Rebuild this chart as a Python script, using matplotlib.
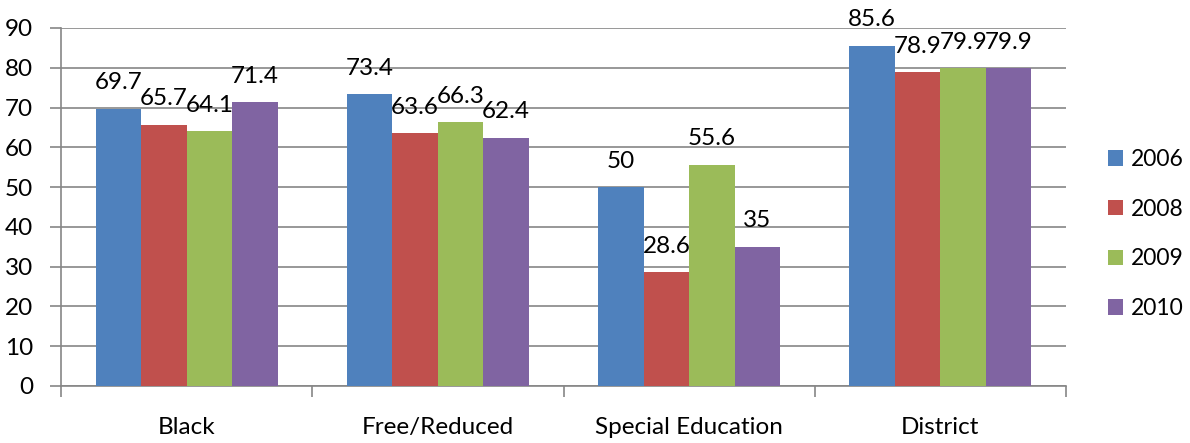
import matplotlib.pyplot as plt
import numpy as np

plt.rcParams['font.family'] = ['Lato', 'DejaVu Sans']

groups = ['Black', 'Free/Reduced', 'Special Education', 'District']
years = ['2006', '2008', '2009', '2010']
v2006 = [69.7, 73.4, 50, 85.6]
v2008 = [65.7, 63.6, 28.6, 78.9]
v2009 = [64.1, 66.3, 55.6, 79.9]
v2010 = [71.4, 62.4, 35, 79.9]
series = [v2006, v2008, v2009, v2010]
colors = ['#4F81BD', '#C0504D', '#9BBB59', '#8064A2']

grid_col = '#868686'
fs = 17.5

fig = plt.figure(figsize=(11.9, 4.43), dpi=100)
ax = fig.add_axes([61 / 1190, 57 / 443, 1005 / 1190, 358 / 443])

x = np.arange(len(groups))
w = 0.725 / 4
for i, (vals, col, yr) in enumerate(zip(series, colors, years)):
    pos = x - 0.725 / 2 + w * (i + 0.5)
    ax.bar(pos, vals, w, color=col, label=yr, zorder=3)
    for p, v in zip(pos, vals):
        ax.annotate(f'{v:g}', (p, v), xytext=(0, 14), textcoords='offset points',
                    ha='center', va='baseline', fontsize=fs, zorder=4)

ax.set_xlim(-0.5, len(groups) - 0.5)
ax.set_ylim(0, 90)
ax.set_yticks(range(0, 91, 10))
ax.yaxis.grid(True, color=grid_col, linewidth=1.2, zorder=0)
ax.set_axisbelow(True)

ax.set_xticks(x)
ax.set_xticklabels(groups)
ax.set_xticks(np.arange(-0.5, len(groups)), minor=True)
ax.tick_params(axis='x', which='major', length=0, pad=22, labelsize=fs)
ax.tick_params(axis='x', which='minor', length=8, width=1.2, color=grid_col)
ax.tick_params(axis='y', length=8, width=1.2, color=grid_col, pad=12, labelsize=fs)

for s in ['top', 'right']:
    ax.spines[s].set_visible(False)
for s in ['left', 'bottom']:
    ax.spines[s].set_color(grid_col)
    ax.spines[s].set_linewidth(1.2)

fig.legend(loc='center left', bbox_to_anchor=(1108 / 1190, 1 - 234 / 443), frameon=False,
           fontsize=16.5, handlelength=0.65, handleheight=0.65, handletextpad=0.35,
           labelspacing=1.25, borderaxespad=0, borderpad=0)

fig.savefig('out.png', dpi=100)
